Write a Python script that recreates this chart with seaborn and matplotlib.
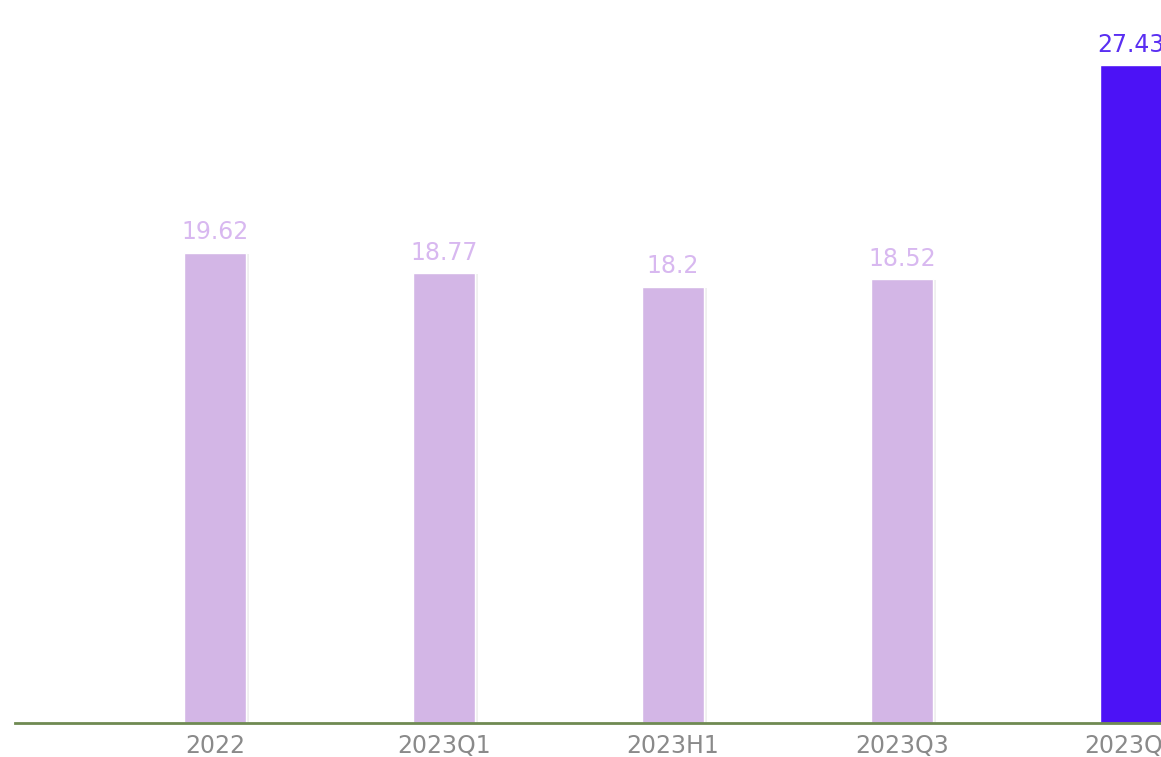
import matplotlib
matplotlib.use("Agg")
import matplotlib.pyplot as plt
import matplotlib.patheffects as pe
import seaborn as sns
import pandas as pd

categories = ["2022", "2023Q1", "2023H1", "2023Q3", "2023Q4"]
values = [19.62, 18.77, 18.2, 18.52, 27.43]
bar_colors = ["#d3b6e6", "#d3b6e6", "#d3b6e6", "#d3b6e6", "#4c12f6"]
label_colors = ["#d8b8f0", "#d8b8f0", "#d8b8f0", "#d8b8f0", "#5a2ff2"]
label_texts = ["19.62", "18.77", "18.2", "18.52", "27.43"]

sns.set_theme(style="white")
plt.rcParams['font.family'] = ['DejaVu Sans']

fig = plt.figure(figsize=(11.61, 7.57), dpi=100)
W, H = 1161, 757
ax = fig.add_axes([15 / W, (H - 723) / H, (W - 15) / W, 723 / H])

df = pd.DataFrame({"cat": categories, "val": values})
sns.barplot(data=df, x="cat", y="val", hue="cat", palette=bar_colors,
            legend=False, width=0.275, ax=ax, saturation=1)

for i, p in enumerate(ax.patches):
    p.set_path_effects([pe.SimplePatchShadow(offset=(1.5, -1), shadow_rgbFace="#cccccc", alpha=0.3), pe.Normal()])
    ax.annotate(label_texts[i], (p.get_x() + p.get_width() / 2, p.get_height()),
                xytext=(0, 6), textcoords="offset points", ha="center", va="bottom",
                fontsize=17, color=label_colors[i], annotation_clip=False)

ax.set_xlim((15 - 215) / 229, (1161 - 215) / 229)
ax.set_ylim(0, 723 / 23.98)
ax.set_xlabel("")
ax.set_ylabel("")
ax.set_yticks([])
ax.tick_params(axis="x", length=0, pad=8, labelsize=17, labelcolor="#8a8a8a")
for s in ["top", "right", "left"]:
    ax.spines[s].set_visible(False)
ax.spines["bottom"].set_color("#6f8a52")
ax.spines["bottom"].set_linewidth(2)

fig.savefig("out.png", dpi=100)
